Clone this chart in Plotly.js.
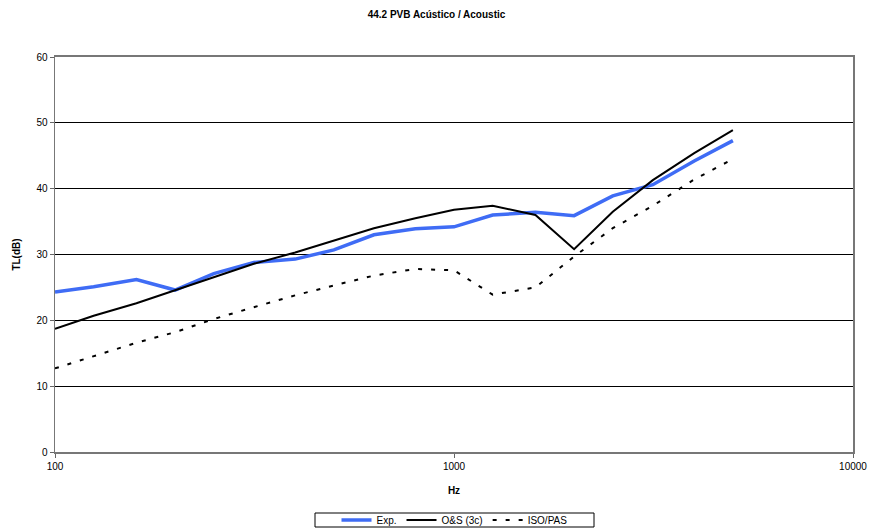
<!DOCTYPE html>
<html>
<head>
<meta charset="utf-8">
<script src="https://cdn.plot.ly/plotly-3.0.1.min.js"></script>
<style>
  html, body { margin: 0; padding: 0; background: #fff; }
  #chart { width: 873px; height: 531px; }
</style>
</head>
<body>
<div id="chart"></div>
<script>
// One-third-octave band centre frequencies (Hz)
const freqs = [100, 125, 160, 200, 250, 315, 400, 500, 630, 800, 1000, 1250, 1600, 2000, 2500, 3150, 4000, 5000];

// Transmission loss, dB
const expTL = [24.3, 25.1, 26.2, 24.6, 27.1, 28.8, 29.3, 30.7, 33.0, 33.9, 34.2, 36.0, 36.4, 35.9, 38.9, 40.6, 44.2, 47.3];
const osTL  = [18.7, 20.7, 22.6, 24.6, 26.6, 28.6, 30.3, 32.1, 34.0, 35.5, 36.8, 37.4, 36.0, 30.8, 36.5, 41.3, 45.4, 48.9];
const isoTL = [12.7, 14.6, 16.6, 18.2, 20.2, 22.0, 23.8, 25.3, 26.8, 27.8, 27.6, 23.9, 25.0, 29.7, 34.0, 37.4, 41.4, 44.5];

// Axis ticks
const xTickVals = [100, 1000, 10000];
const xTickText = ['100', '1000', '10000'];
const yTickVals = [0, 10, 20, 30, 40, 50, 60];

const font = 'Arial, "Liberation Sans", sans-serif';

const W = 873, H = 531;
const M = { l: 55, r: 20, t: 57, b: 79 };
const plotH = H - M.t - M.b;
const plotW = W - M.l - M.r;

const traces = [
  { x: freqs, y: expTL, name: 'Exp.', mode: 'lines', type: 'scatter',
    line: { color: '#3f6cf5', width: 3.5 } },
  { x: freqs, y: osTL, name: 'O&S (3c)', mode: 'lines', type: 'scatter',
    line: { color: '#000000', width: 2 } },
  { x: freqs, y: isoTL, name: 'ISO/PAS', mode: 'lines', type: 'scatter',
    line: { color: '#000000', width: 2, dash: '4px,9px' } }
];

// legend frame (pixel box converted to paper coordinates)
const box = { x0: 315, x1: 594, y0: 513, y1: 527 };
const px = x => (x - M.l) / plotW;
const py = y => (H - M.b - y) / plotH;

const layout = {
  width: W, height: H,
  margin: { l: M.l, r: M.r, t: M.t, b: M.b, autoexpand: false },
  paper_bgcolor: '#ffffff',
  plot_bgcolor: '#ffffff',
  font: { family: font, size: 10, color: '#000' },
  title: { text: '<b>44.2 PVB Acústico / Acoustic</b>', x: 0.5, xanchor: 'center',
           y: 1 - 14 / H, yanchor: 'middle', font: { family: font, size: 10, color: '#000' } },
  xaxis: {
    type: 'log', range: [2, 4], automargin: false,
    tickvals: xTickVals, ticktext: xTickText,
    ticks: 'outside', ticklen: 4, tickcolor: '#666',
    showgrid: false, zeroline: false,
    showline: true, linecolor: '#777', linewidth: 2, mirror: true,
    tickfont: { family: font, size: 10 },
    title: { text: '<b>Hz</b>', font: { family: font, size: 10 }, standoff: 16 }
  },
  yaxis: {
    range: [0, 60], tickvals: yTickVals, automargin: false,
    ticks: 'outside', ticklen: 4, tickcolor: '#666',
    showgrid: true, gridcolor: '#000', gridwidth: 1, zeroline: false,
    showline: true, linecolor: '#777', linewidth: 1.5, mirror: true,
    tickfont: { family: font, size: 10 },
    title: { text: '<b>TL(dB)</b>', font: { family: font, size: 10 }, standoff: 14 }
  },
  shapes: [
    { type: 'rect', xref: 'paper', yref: 'paper',
      x0: px(box.x0), x1: px(box.x1), y0: py(box.y1), y1: py(box.y0),
      line: { color: '#000', width: 1 }, fillcolor: 'rgba(0,0,0,0)' }
  ],
  showlegend: true,
  legend: {
    orientation: 'h', x: px((box.x0 + box.x1) / 2), xanchor: 'center',
    y: py((box.y0 + box.y1) / 2), yanchor: 'middle',
    borderwidth: 0, bgcolor: 'rgba(0,0,0,0)',
    font: { family: font, size: 10 },
    itemwidth: 30, tracegroupgap: 0
  }
};

Plotly.newPlot('chart', traces, layout, { displayModeBar: false, staticPlot: true });
</script>
</body>
</html>
